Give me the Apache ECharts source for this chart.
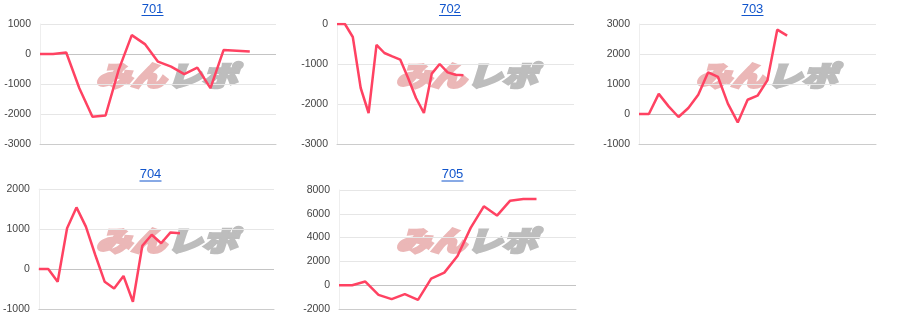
<!DOCTYPE html>
<html>
<head>
<meta charset="utf-8">
<script src="https://cdn.jsdelivr.net/npm/echarts@6/dist/echarts.min.js"></script>
<style>html,body{margin:0;padding:0;background:#fff;}#c{width:900px;height:330px;}</style>
</head>
<body>
<div id="c"></div>
<script>
// ---- data ----
const titles = ['701', '702', '703', '704', '705'];

const cats701 = ['1','2','3','4','5','6','7','8','9','10','11','12','13','14','15','16','17','18','19'];
const vals701 = [0, 0, 50, -1140, -2090, -2050, -530, 630, 330, -255, -420, -670, -455, -1140, 130, 110, 80];

const cats702 = ['1','2','3','4','5','6','7','8','9','10','11','12','13','14','15','16','17','18','19','20','21','22','23','24','25','26','27','28','29','30','31'];
const vals702 = [0, 0, -325, -1600, -2225, -520, -725, -810, -890, -1350, -1850, -2225, -1240, -1000, -1210, -1270, -1280];

const cats703 = ['1','2','3','4','5','6','7','8','9','10','11','12','13','14','15','16','17','18','19','20','21','22','23','24','25'];
const vals703 = [0, 0, 670, 255, -100, 200, 645, 1390, 1235, 345, -280, 475, 610, 1120, 2810, 2615];

const cats704 = ['1','2','3','4','5','6','7','8','9','10','11','12','13','14','15','16','17','18','19','20','21','22','23','24','25','26'];
const vals704 = [0, 0, -320, 1020, 1540, 1060, 350, -320, -485, -175, -820, 580, 855, 645, 915, 895];

const cats705 = ['1','2','3','4','5','6','7','8','9','10','11','12','13','14','15','16','17','18','19'];
const vals705 = [0, 0, 306, -808, -1170, -752, -1226, 557, 1058, 2451, 4819, 6630, 5850, 7103, 7242, 7242];

const yMin = [-3000, -3000, -1000, -1000, -2000];
const yMax = [1000, 0, 3000, 2000, 8000];
const yStep = [1000, 1000, 1000, 1000, 2000];

const allCats = [cats701, cats702, cats703, cats704, cats705];
const allVals = [vals701, vals702, vals703, vals704, vals705];

// ---- layout (styles/positions) ----
const grids = [
  {left: 40, top: 24, width: 236, height: 120},
  {left: 337, top: 24, width: 237, height: 120},
  {left: 639, top: 24, width: 237, height: 120},
  {left: 37, top: 189, width: 237, height: 120},
  {left: 339, top: 190, width: 237, height: 119}
];
const titlePos = [[152.5, 9], [450, 9], [752.5, 9], [150.5, 174.5], [452.5, 174.5]];
const panelOrigin = [[0, 0], [300, 0], [600, 0], [0, 165], [300, 165]];

const LINE = '#ff4262';
const option = {
  animation: false,
  backgroundColor: '#fff',
  grid: grids.map(g => Object.assign({containLabel: false}, g)),
  xAxis: allCats.map((c, i) => ({
    type: 'category', gridIndex: i, data: c, boundaryGap: false,
    axisLine: {show: true, onZero: false, lineStyle: {color: '#cccccc', width: 1}},
    axisTick: {show: false}, axisLabel: {show: false}, splitLine: {show: false}
  })),
  yAxis: allVals.map((v, i) => ({
    type: 'value', gridIndex: i, min: yMin[i], max: yMax[i], interval: yStep[i],
    axisLine: {show: true, lineStyle: {color: '#eeeeee', width: 1}},
    axisTick: {show: false},
    axisLabel: {color: '#444', fontSize: 10.5, fontFamily: 'Liberation Sans, Arial', margin: 9,
      formatter: val => String(val)},
    splitLine: {show: true, lineStyle: {color: '#e6e6e6', width: 1}}
  })),
  series: allVals.map((v, i) => ({
    type: 'line', xAxisIndex: i, yAxisIndex: i, data: v,
    showSymbol: false, symbol: 'none', z: 5,
    lineStyle: {color: LINE, width: 2.5}, itemStyle: {color: LINE},
    markLine: {silent: true, symbol: 'none', label: {show: false},
      lineStyle: {color: '#c4c4c4', type: 'solid', width: 1},
      data: [{yAxis: 0}]}
  })),
  graphic: []
};

titles.forEach((t, i) => {
  const [cx, cy] = titlePos[i];
  option.graphic.push({
    type: 'text', x: cx, y: cy, z: 10,
    style: {text: t, fill: '#1155cc', font: '13px "Liberation Sans", Arial', align: 'center', verticalAlign: 'middle'}
  });
  option.graphic.push({
    type: 'line', z: 10,
    shape: {x1: cx - 11, y1: cy + 6.5, x2: cx + 11, y2: cy + 6.5},
    style: {stroke: '#1155cc', lineWidth: 1}
  });
  const [ox, oy] = panelOrigin[i];
  option.graphic.push({
    type: 'text', x: ox + 96, y: oy + 76, z: 0, scaleY: 0.78,
    style: {text: 'みん', fill: '#ebb7b7', stroke: '#ebb7b7', lineWidth: 3.5,
      font: 'italic 900 35px "Noto Sans CJK JP"', align: 'left', verticalAlign: 'middle'}
  });
  option.graphic.push({
    type: 'text', x: ox + 167, y: oy + 76, z: 0, scaleY: 0.78,
    style: {text: 'レポ', fill: '#bdbdbd', stroke: '#bdbdbd', lineWidth: 3.5,
      font: 'italic 900 35px "Noto Sans CJK JP"', align: 'left', verticalAlign: 'middle'}
  });
});

const chart = echarts.init(document.getElementById('c'), null, {renderer: 'canvas'});
chart.setOption(option);
</script>
</body>
</html>
